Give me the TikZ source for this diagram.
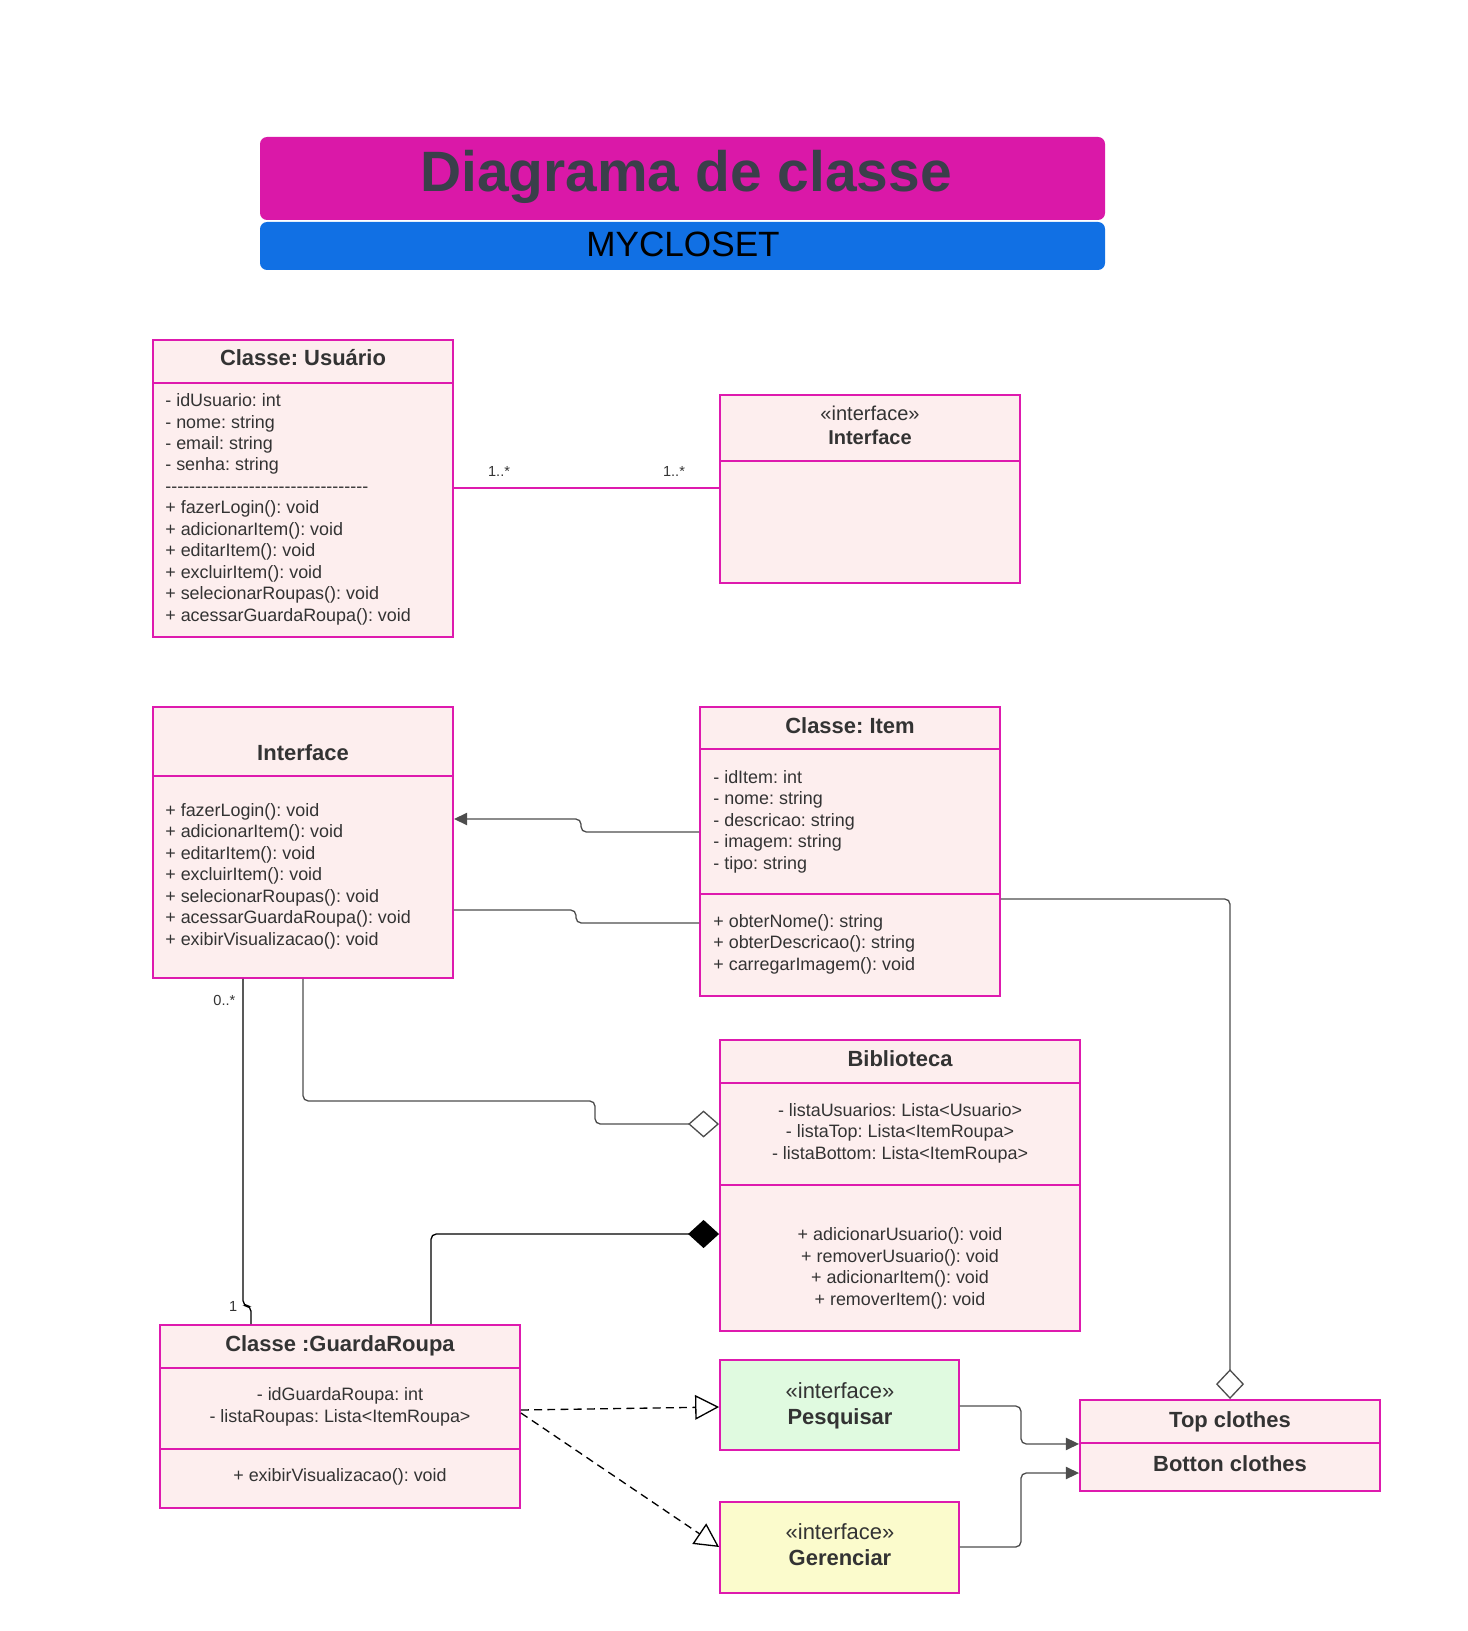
\documentclass[tikz,border=0pt]{standalone}
\usepackage{fontspec}
\setmainfont{Liberation Sans}
\usetikzlibrary{arrows.meta, fit, positioning}
\frenchspacing

\definecolor{umlline}{RGB}{222,26,174}
\definecolor{umlfill}{RGB}{253,238,238}
\definecolor{umltext}{RGB}{51,51,51}
\definecolor{titlemag}{RGB}{218,24,168}
\definecolor{titletext}{RGB}{58,63,74}
\definecolor{titleblue}{RGB}{17,112,228}
\definecolor{pesqfill}{RGB}{224,250,224}
\definecolor{gerenfill}{RGB}{251,251,204}
\definecolor{linkgray}{RGB}{77,77,77}

\begin{document}
\begin{tikzpicture}[x=0.02cm, y=-0.02cm,
  >={Triangle[length=7.5pt, width=7pt]},
  compart/.style={draw=umlline, line width=1.1pt, fill=umlfill, inner sep=0pt},
  hdr/.style={font=\fontsize{12.5}{15}\selectfont\bfseries, text=umltext, anchor=base, inner sep=0pt},
  stereo/.style={font=\fontsize{11.4}{14.2}\selectfont, text=umltext, align=center,
                 anchor=base, inner sep=0pt},
  members/.style={font=\fontsize{10.2}{12.2}\selectfont, text=umltext, align=left,
                  anchor=base west, inner sep=0pt},
  cmembers/.style={members, align=center, anchor=base},
  link/.style={draw=linkgray, line width=0.75pt, rounded corners=3pt},
  mult/.style={font=\fontsize{8.3}{10}\selectfont, text=umltext, inner sep=0pt}]
  \useasboundingbox (0,0) rectangle (1467,1631);

  % title
  \node[fit={(260,137) (1105,220)}, fill=titlemag, rounded corners=4pt, inner sep=0pt] (titlebar) {};
  \node[fit={(260,222) (1105,270)}, fill=titleblue, rounded corners=4pt, inner sep=0pt] (subbar) {};
  \node[anchor=base, inner sep=0pt, font=\fontsize{32.4}{36}\selectfont\bfseries, text=titletext]
    (titletxt) at (686,192) {Diagrama de classe};
  \node[anchor=base, inner sep=0pt, font=\fontsize{20}{24}\selectfont] (subtxt) at (683,257) {MYCLOSET};

  % Classe: Usuario
  \node[compart, fit={(153,340) (453,383)}] (usrhead) {};
  \node[compart, fit={(153,383) (453,637)}] (usrbody) {};
  \node[hdr] (usrtitle) at (303,366) {Classe: Usuário};
  \node[members] (usrtext) at (165,621) {- idUsuario: int\\- nome: string\\- email: string\\- senha: string\\
    -{}-{}-{}-{}-{}-{}-{}-{}-{}-{}-{}-{}-{}-{}-{}-{}-{}-{}-{}-{}-{}-{}-{}-{}-{}-{}-{}-{}-{}-{}-{}-{}-{}-\\
    + fazerLogin(): void\\+ adicionarItem(): void\\+ editarItem(): void\\+ excluirItem(): void\\
    + selecionarRoupas(): void\\+ acessarGuardaRoupa(): void};

  % interface (top)
  \node[compart, fit={(720,395) (1020,461)}] (ifchead) {};
  \node[compart, fit={(720,461) (1020,583)}] (ifcbody) {};
  \node[stereo] (ifctitle) at (870,445) {«interface»\\\textbf{Interface}};

  % Interface
  \node[compart, fit={(153,707) (453,776)}] (ifhead) {};
  \node[compart, fit={(153,776) (453,978)}] (ifbody) {};
  \node[hdr] (iftitle) at (303,760) {Interface};
  \node[members] (iftext) at (165,945) {+ fazerLogin(): void\\+ adicionarItem(): void\\+ editarItem(): void\\
    + excluirItem(): void\\+ selecionarRoupas(): void\\+ acessarGuardaRoupa(): void\\+ exibirVisualizacao(): void};

  % Classe: Item
  \node[compart, fit={(700,707) (1000,749)}] (itemhead) {};
  \node[compart, fit={(700,749) (1000,894)}] (itemattr) {};
  \node[compart, fit={(700,894) (1000,996)}] (itemops) {};
  \node[hdr] (itemtitle) at (850,733) {Classe: Item};
  \node[members] (itemattrtext) at (713,869) {- idItem: int\\- nome: string\\- descricao: string\\
    - imagem: string\\- tipo: string};
  \node[members] (itemopstext) at (713,970) {+ obterNome(): string\\+ obterDescricao(): string\\
    + carregarImagem(): void};

  % Biblioteca
  \node[compart, fit={(720,1040) (1080,1083)}] (bibhead) {};
  \node[compart, fit={(720,1083) (1080,1185)}] (bibattr) {};
  \node[compart, fit={(720,1185) (1080,1331)}] (bibops) {};
  \node[hdr] (bibtitle) at (900,1066) {Biblioteca};
  \node[cmembers] (bibattrtext) at (900,1159) {- listaUsuarios: Lista<Usuario>\\- listaTop: Lista<ItemRoupa>\\
    - listaBottom: Lista<ItemRoupa>};
  \node[cmembers] (bibopstext) at (900,1305) {+ adicionarUsuario(): void\\+ removerUsuario(): void\\
    + adicionarItem(): void\\+ removerItem(): void};

  % Classe :GuardaRoupa
  \node[compart, fit={(160,1325) (520,1368)}] (grhead) {};
  \node[compart, fit={(160,1368) (520,1449)}] (grattr) {};
  \node[compart, fit={(160,1449) (520,1508)}] (grops) {};
  \node[hdr] (grtitle) at (340,1351) {Classe :GuardaRoupa};
  \node[cmembers] (grattrtext) at (340,1422) {- idGuardaRoupa: int\\- listaRoupas: Lista<ItemRoupa>};
  \node[cmembers] (grtextops) at (340,1481) {+ exibirVisualizacao(): void};

  % interfaces Pesquisar / Gerenciar
  \node[compart, fill=pesqfill, fit={(720,1360) (959,1450)}] (pesq) {};
  \node[compart, fill=gerenfill, fit={(720,1502) (959,1593)}] (geren) {};
  \node[stereo, font=\fontsize{12.5}{14.8}\selectfont] (pesqtitle) at (840,1424) {«interface»\\\textbf{Pesquisar}};
  \node[stereo, font=\fontsize{12.5}{14.8}\selectfont] (gerentitle) at (840,1565) {«interface»\\\textbf{Gerenciar}};

  % Top / Botton clothes
  \node[compart, fit={(1080,1400) (1380,1443)}] (tophead) {};
  \node[compart, fit={(1080,1443) (1380,1491)}] (bothead) {};
  \node[hdr] (toptitle) at (1230,1427) {Top clothes};
  \node[hdr] (bottitle) at (1230,1471) {Botton clothes};

  % connectors
  \draw[umlline, line width=0.75pt] (usrbody.east |- 0,488) -- (ifcbody.west |- 0,488)
    node[mult, pos=0.17, above=6pt] {1..*} node[mult, pos=0.83, above=6pt] {1..*};
  \draw[link, ->] (itemattr.west |- 0,832) -| ++(-118,-13) -- (ifbody.east |- 0,819);
  \draw[link] (ifbody.east |- 0,910) -| ++(122,13) -- (itemops.west |- 0,923);
  \draw[link, -{Diamond[length=17.6pt, width=15.4pt, fill=white]}]
    (ifbody.south) |- ++(292,122) |- (bibattr.west |- 0,1124);
  \draw[link, black] (ifbody.south -| 243,0) node[mult, below left=9pt and 4pt] {0..*}
    |- ++(8,327) -- (grhead.north -| 251,0) node[mult, above left=6.8pt and 7.4pt] {1};
  \draw[link, black, -{Diamond[length=17.6pt, width=16pt, fill=black]}]
    (grhead.north -| 431,0) |- (bibops.west |- 0,1234);
  \draw[link, -{Diamond[length=17pt, width=16pt, fill=white]}]
    (itemops.east |- 0,899) -| (tophead.north);
  \draw[link, black, dash pattern=on 4.5pt off 3pt, -{Triangle[open, length=13.6pt, width=14pt]}]
    (grattr.east |- 0,1410) -- (pesq.west |- 0,1407);
  \draw[link, black, dash pattern=on 4.5pt off 3pt, -{Triangle[open, length=13.6pt, width=14pt]}]
    (grattr.east |- 0,1413) -- (geren.west |- 0,1547);
  \draw[link, ->] (pesq.east |- 0,1406) -- ++(61,0) |- (tophead.south west);
  \draw[link, ->] (geren.east |- 0,1547) -- ++(61,0) |- (bothead.west |- 0,1473);
\end{tikzpicture}
\end{document}
